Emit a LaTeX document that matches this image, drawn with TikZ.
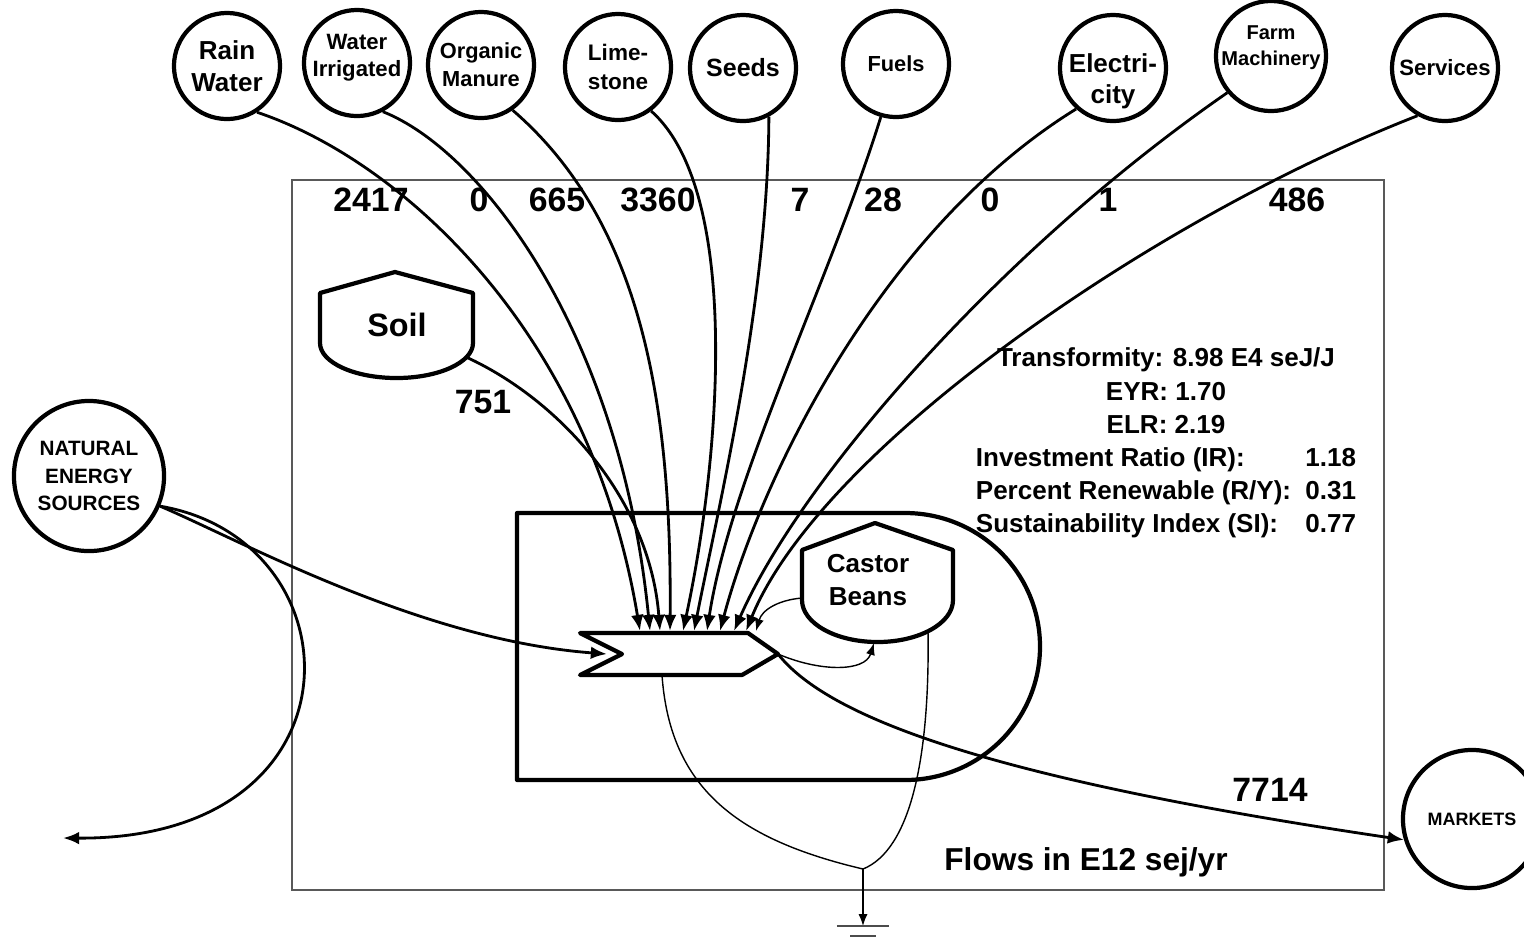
\documentclass[tikz,border=0pt]{standalone}
\usepackage{fontspec}
\setmainfont{Liberation Sans}
\usetikzlibrary{arrows.meta, positioning, calc}
\tikzset{
  src/.style={
    circle, draw, line width=1.2pt, minimum size=1.06cm, inner sep=0pt,
    align=center, font=\bfseries\fontsize{6.3}{7.8}\selectfont
  },
  num/.style={font=\bfseries\fontsize{9.6}{11}\selectfont, inner sep=0pt},
  lbl/.style={align=center, inner sep=0pt, font=\bfseries\fontsize{7.4}{9.4}\selectfont},
  tank/.style={line width=1.2pt, line join=round},
  flow/.style={-{Latex[length=4.6pt, width=3.6pt]}, line width=0.8pt},
  fbk/.style={-{Latex[length=3.4pt, width=2.6pt]}, line width=0.4pt},
  heat/.style={line width=0.4pt}
}
\begin{document}
\begin{tikzpicture}[x=0.01cm, y=-0.01cm]
\useasboundingbox (0,0) rectangle (1524,944);

% ---------------- Frame ----------------
\draw[gray!70!black, line width=0.6pt] (292,180) rectangle (1384,890);

% ---------------- Sources ----------------
\node[src, font=\bfseries\fontsize{7.4}{9}\selectfont] (rain) at (227,66) {Rain\\Water};
\node[src, label={[lbl, font=\bfseries\fontsize{6.3}{7.8}\selectfont, yshift=0.05cm]center:Water\\Irrigated}] (irrig) at (357,63) {};
\node[src, font=\bfseries\fontsize{6.2}{8}\selectfont] (manure) at (481,65) {Organic\\Manure};
\node[src, font=\bfseries\fontsize{6.4}{8.2}\selectfont] (lime) at (618,67) {Lime-\\stone};
\node[src, font=\bfseries\fontsize{7.1}{9}\selectfont] (seeds) at (743,68) {Seeds};
\node[src, font=\bfseries\fontsize{6.2}{8}\selectfont] (fuel) at (896,64) {Fuels};
\node[src, label={[lbl, font=\bfseries\fontsize{7.4}{8.8}\selectfont, yshift=-0.13cm]center:Electri-\\city}] (elec) at (1113,68) {};
\node[src, minimum size=1.1cm, label={[lbl, font=\bfseries\fontsize{5.7}{7.4}\selectfont, yshift=0.08cm]center:Farm\\Machinery}] (mach) at (1271,56) {};
\node[src] (serv) at (1445,68) {Services};
\node[src, minimum size=1.5cm, font=\bfseries\fontsize{5.9}{7.7}\selectfont] (nature) at (89,476) {NATURAL\\ENERGY\\SOURCES};
\node[src, minimum size=1.38cm, font=\bfseries\fontsize{5.1}{6}\selectfont] (markets) at (1472,819) {MARKETS};

% ---------------- Storages ----------------
\draw[tank] (473,343) -- (473,293) -- (395,272) -- (320,293) -- (320,343)
  arc[start angle=180, end angle=0, x radius=76.5, y radius=35] -- cycle;
\node[lbl, font=\bfseries\fontsize{9.2}{11}\selectfont] (soil) at (397,325) {Soil};
\coordinate (soil-out) at (466,357);

\draw[tank] (953,600) -- (953,550) -- (875,523) -- (802,550) -- (802,600)
  arc[start angle=180, end angle=0, x radius=75.5, y radius=42] -- cycle;
\node[lbl] (castor) at (868,580) {Castor\\Beans};
\coordinate (castor-l) at (802,598);
\coordinate (castor-b) at (874,643);
\coordinate (castor-r) at (928,631);

% ---------------- System boundary ----------------
\draw[tank] (905,513) -- (517,513) -- (517,780) -- (905,780)
  arc[start angle=90, end angle=-90, x radius=135, y radius=133.5];

% ---------------- Producer ----------------
\draw[tank, fill=white] (580,633) -- (748,633) -- (778,654) -- (742,675) -- (580,675) -- (622,654) -- cycle;
\coordinate (prod-in) at (607,654);
\coordinate (prod-out) at (778,654);
\coordinate (prod-bot) at (662,675);

\coordinate (in-rain) at (640,631);
\coordinate (in-irrig) at (650,631);
\coordinate (in-soil) at (660,631);
\coordinate (in-manure) at (670,631);
\coordinate (in-lime) at (683,631);
\coordinate (in-seeds) at (694,631);
\coordinate (in-fuel) at (707,631);
\coordinate (in-elec) at (720,631);
\coordinate (in-mach) at (734,631);
\coordinate (in-serv) at (746,631);
\coordinate (in-fb) at (756,631);

% ---------------- Inflows ----------------
\draw[flow] (rain.-57) .. controls (400,160) and (590,330) .. (in-rain);
\draw[flow] (irrig.-62) .. controls (480,150) and (620,330) .. (in-irrig);
\draw[flow] (soil-out) .. controls (560,400) and (650,500) .. (in-soil);
\draw[flow] (manure.-55) .. controls (640,220) and (672,400) .. (in-manure);
\draw[flow] (lime.-53) .. controls (740,190) and (722,450) .. (in-lime);
\draw[flow] (seeds.-62) .. controls (768,300) and (720,500) .. (in-seeds);
\draw[flow] (fuel.-106) .. controls (830,280) and (730,480) .. (in-fuel);
\draw[flow] (elec.-132) .. controls (880,230) and (760,480) .. (in-elec);
\draw[flow] (mach.-140) .. controls (1000,250) and (800,480) .. (in-mach);
\draw[flow] (serv.-120) .. controls (1150,220) and (820,450) .. (in-serv);

\draw[flow] (nature.-23) .. controls (240,540) and (420,640) .. (prod-in);
\coordinate (lost) at (63,838);
\draw[flow] (nature.-23) .. controls (360,540) and (370,840) .. (lost);

% ---------------- Outflows ----------------
\draw[flow] (prod-out) .. controls (830,720) and (1000,780) .. (markets.197);
\draw[fbk] (prod-out) .. controls (820,672) and (865,672) .. (castor-b);
\draw[fbk] (castor-l) .. controls (778,600) and (762,610) .. (in-fb);

% ---------------- Heat sink ----------------
\coordinate (sink) at (863,869);
\coordinate (gnd) at (863,926);
\draw[heat] (prod-bot) .. controls (670,790) and (740,840) .. (sink);
\draw[heat] (castor-r) .. controls (930,760) and (910,850) .. (sink);
\draw[fbk] (sink) -- (gnd);
\draw[heat, gray!60!black, line width=0.6pt] ([xshift=-0.26cm]gnd) -- ([xshift=0.26cm]gnd);
\draw[heat, gray!60!black, line width=0.6pt] ([xshift=-0.13cm, yshift=-0.1cm]gnd) -- ([xshift=0.13cm, yshift=-0.1cm]gnd);

% ---------------- Values ----------------
\node[num] (v-rain) at (371,200) {2417};
\node[num] (v-irrig) at (479,200) {0};
\node[num] (v-manure) at (557,200) {665};
\node[num] (v-lime) at (658,200) {3360};
\node[num] (v-seeds) at (800,200) {7};
\node[num] (v-fuel) at (883,200) {28};
\node[num] (v-elec) at (990,200) {0};
\node[num] (v-mach) at (1108,200) {1};
\node[num] (v-serv) at (1297,200) {486};
\node[num] (v-soil) at (483,402) {751};
\node[num] (v-out) at (1270,790) {7714};

% ---------------- Indices ----------------
\node[lbl] (stats) at (1166,443) {%
  \begin{tabular}{@{}l@{\ }r@{}}
  \multicolumn{2}{c}{Transformity: 8.98 E4 seJ/J}\\
  \multicolumn{2}{c}{EYR: 1.70}\\
  \multicolumn{2}{c}{ELR: 2.19}\\
  Investment Ratio (IR): & 1.18\\
  Percent Renewable (R/Y): & 0.31\\
  Sustainability Index (SI): & 0.77
  \end{tabular}};

\node[lbl, font=\bfseries\fontsize{9}{11}\selectfont] (units) at (1086,862) {Flows in E12 sej/yr};

\end{tikzpicture}
\end{document}
